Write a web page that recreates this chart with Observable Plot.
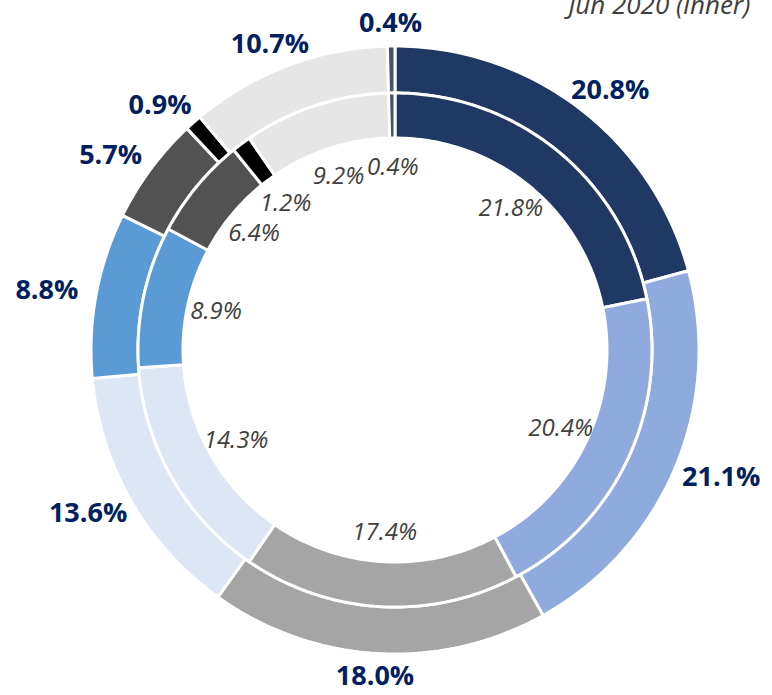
<!DOCTYPE html>
<html>
<head>
<meta charset="utf-8">
<script src="https://cdn.jsdelivr.net/npm/d3@7"></script>
<script src="https://cdn.jsdelivr.net/npm/@observablehq/plot@0.6"></script>
<style>
  html, body { margin: 0; padding: 0; background: #fff; }
  #chart { width: 772px; height: 695px; overflow: hidden; }
</style>
</head>
<body>
<div id="chart"></div>
<script>
// ---- Data ----
const segments = ["s1", "s2", "s3", "s4", "s5", "s6", "s7", "s8", "s9"];
const outerValues = [20.8, 21.1, 18.0, 13.6, 8.8, 5.7, 0.9, 10.7, 0.4]; // later period (outer ring)
const innerValues = [21.8, 20.4, 17.4, 14.3, 8.9, 6.4, 1.2, 9.2, 0.4];  // Jun 2020 (inner ring)
const segmentColors = ["#203864", "#8faadc", "#a5a5a5", "#dce6f4", "#5b9bd5", "#525252", "#000000", "#e6e6e6", "#44546a"];
const innerTitle = "Jun 2020 (inner)";

// ---- Geometry (chart layout) ----
const W = 772, H = 695;
const cx = 394.5, cy = 349.5;
const rings = [
  {name: "outer", values: outerValues, r0: 257, r1: 304, labelR: 322, boxW: 32, boxH: 5},
  {name: "inner", values: innerValues, r0: 212, r1: 257, labelR: 183, boxW: 0, boxH: 0}
];

const polyRows = [];
const labelRows = [];
for (const ring of rings) {
  const total = d3.sum(ring.values);
  let cum = 0;
  ring.values.forEach((v, i) => {
    const a0 = cum / total * 2 * Math.PI;
    cum += v;
    const a1 = cum / total * 2 * Math.PI;
    const key = ring.name + "-" + segments[i];
    const n = Math.max(2, Math.ceil((a1 - a0) / (Math.PI / 180)));
    for (let k = 0; k <= n; k++) {
      const a = a0 + (a1 - a0) * k / n;
      polyRows.push({key, seg: segments[i], x: ring.r1 * Math.sin(a), y: ring.r1 * Math.cos(a)});
    }
    for (let k = n; k >= 0; k--) {
      const a = a0 + (a1 - a0) * k / n;
      polyRows.push({key, seg: segments[i], x: ring.r0 * Math.sin(a), y: ring.r0 * Math.cos(a)});
    }
    const am = (a0 + a1) / 2;
    labelRows.push({
      ring: ring.name,
      x: (ring.labelR + ring.boxW) * Math.sin(am),
      y: (ring.labelR + ring.boxH) * Math.cos(am),
      text: v.toFixed(1) + "%"
    });
  });
}

const font = "'Open Sans', 'Liberation Sans', sans-serif";

const chart = Plot.plot({
  width: W,
  height: H,
  margin: 0,
  style: {fontFamily: font, background: "#ffffff"},
  x: {domain: [-cx, W - cx], axis: null},
  y: {domain: [cy - H, cy], axis: null},
  color: {domain: segments, range: segmentColors},
  marks: [
    Plot.line(polyRows, {
      x: "x", y: "y", z: "key", fill: "seg",
      stroke: "white", strokeWidth: 3, strokeLinejoin: "miter",
      curve: "linear-closed"
    }),
    Plot.text(labelRows.filter(d => d.ring === "outer"), {
      x: "x", y: "y", text: "text",
      fill: "#002060", fontWeight: "bold", fontSize: 27, fontFamily: font
    }),
    Plot.text(labelRows.filter(d => d.ring === "inner"), {
      x: "x", y: "y", text: "text",
      fill: "#404040", fontStyle: "italic", fontSize: 24, fontFamily: font
    }),
    Plot.text([innerTitle], {
      frameAnchor: "top-right", text: d => d, lineAnchor: "bottom",
      dx: -22, dy: 13, fill: "#404040", fontStyle: "italic", fontSize: 26, fontFamily: font
    })
  ]
});

document.getElementById("chart").appendChild(chart);
</script>
</body>
</html>
